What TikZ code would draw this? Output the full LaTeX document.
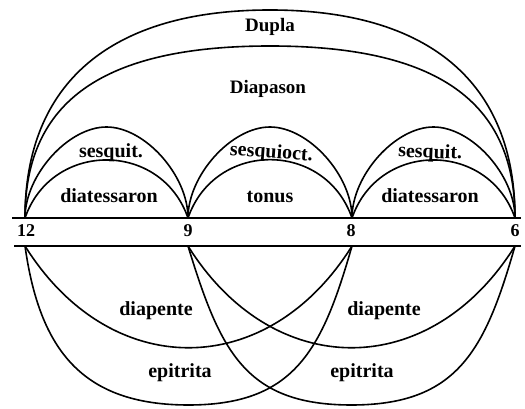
\documentclass[tikz,border=0pt]{standalone}
\usepackage{fontspec}
\setmainfont{Liberation Serif}
\usetikzlibrary{calc}
\begin{document}
\begin{tikzpicture}[x=1pt,y=1pt,
  arcline/.style={line width=1.6pt},
  rule/.style={line width=1.4pt},
  lab/.style={font=\bfseries\fontsize{20}{20}\selectfont, inner sep=0pt, anchor=base},
  biglab/.style={font=\bfseries\fontsize{19}{19}\selectfont, inner sep=0pt, anchor=base},
  num/.style={font=\bfseries\fontsize{18}{18}\selectfont, inner sep=0pt, anchor=base}]
\useasboundingbox (0,0) rectangle (525,409);
% points on the upper and lower rules
\coordinate (u12) at (25,191);
\coordinate (u9)  at (188,191);
\coordinate (u8)  at (352,191);
\coordinate (u6)  at (515,191);
\coordinate (l12) at (25,163);
\coordinate (l9)  at (188,163);
\coordinate (l8)  at (352,163);
\coordinate (l6)  at (515,163);
\coordinate (uL) at (12,191);
\coordinate (uR) at (521,191);
\coordinate (lL) at (14,163);
\coordinate (lR) at (521,163);
% rules
\draw[rule] (uL) -- (uR);
\draw[rule] (lL) -- (lR);
% numbers
\node[num] (n12) at (26,172) {12};
\node[num] (n9)  at (188,172) {9};
\node[num] (n8)  at (351,172) {8};
\node[num] (n6)  at (515,172) {6};
% upper arcs
\draw[arcline] (u12) .. controls +(0,135.2) and +(-159.25,0) .. ($(u12)!0.5!(u6)+(0,208)$)
               .. controls +(159.25,0) and +(0,135.2) .. (u6);
\draw[arcline] (u12) .. controls +(0,117) and +(-166.6,0) .. ($(u12)!0.5!(u6)+(0,172)$)
               .. controls +(166.6,0) and +(0,117) .. (u6);
\draw[arcline] (u12) .. controls +(0,42.8) and +(-38.3,0) .. ($(u12)!0.5!(u9)+(0,91)$)
               .. controls +(38.3,0) and +(0,42.8) .. (u9);
\draw[arcline] (u9) .. controls +(0,42.8) and +(-38.5,0) .. ($(u9)!0.5!(u8)+(0,91)$)
               .. controls +(38.5,0) and +(0,42.8) .. (u8);
\draw[arcline] (u8) .. controls +(0,42.8) and +(-38.3,0) .. ($(u8)!0.5!(u6)+(0,91)$)
               .. controls +(38.3,0) and +(0,42.8) .. (u6);
\draw[arcline] (u12) .. controls +(70.9:81.9) and +(109.1:81.9) .. (u9);
\draw[arcline] (u9) .. controls +(70.9:82.3) and +(109.1:82.3) .. (u8);
\draw[arcline] (u8) .. controls +(70.9:81.9) and +(109.1:81.9) .. (u6);
% lower arcs
\draw[arcline] (l12) .. controls +(-58:160) and +(-122:160) .. (l8);
\draw[arcline] (l9) .. controls +(-58:160) and +(-122:160) .. (l6);
\draw[arcline] (l12) .. controls +(-82:105) and +(-106.3,0) .. ($(l12)!0.5!(l8)+(0,-159)$)
               .. controls +(106.3,0) and +(-106:108) .. (l8);
\draw[arcline] (l9) .. controls +(-73:110) and +(-106.3,0) .. ($(l9)!0.5!(l6)+(0,-159)$)
               .. controls +(106.3,0) and +(-106:108) .. (l6);
% labels
\node[biglab] (dupla) at (270,377) {Dupla};
\node[biglab] (diapason) at (268,315) {Diapason};
\node[lab] (sq1) at (111,251) {sesquit.};
\node[lab, rotate=-4] (sq2) at (271,251) {sesquioct.};
\node[lab, rotate=-2] (sq3) at (430,251) {sesquit.};
\node[lab] (dt1) at (109,206) {diatessaron};
\node[lab] (ton) at (270,206) {tonus};
\node[lab] (dt2) at (430,206) {diatessaron};
\node[lab] (dp1) at (156,93) {diapente};
\node[lab] (dp2) at (384,93) {diapente};
\node[lab] (ep1) at (180,31) {epitrita};
\node[lab] (ep2) at (362,31) {epitrita};
\end{tikzpicture}
\end{document}
